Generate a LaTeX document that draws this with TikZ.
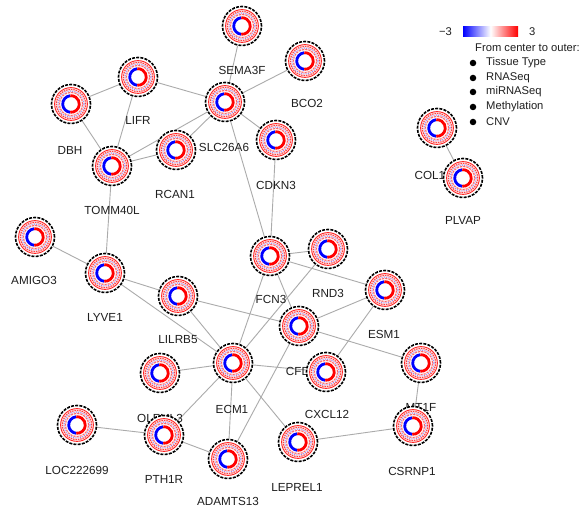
\documentclass[tikz,border=0pt]{standalone}
\usepackage{fontspec}
\setmainfont{Liberation Sans}
\usetikzlibrary{calc}
\pgfdeclarelayer{bglayer}
\pgfdeclarelayer{edgelayer}
\pgfdeclarelayer{labellayer}
\pgfsetlayers{bglayer,edgelayer,labellayer,main}
\tikzset{
  gene/.style={circle, minimum size=39pt, inner sep=0pt, fill=white, draw=black,
    line width=1.6pt, dash pattern=on 3pt off 1.2pt,
    path picture={
      \coordinate (pc) at (path picture bounding box.center);
      \fill[red!10, even odd rule] (pc) circle (16.2pt) (pc) circle (10.6pt);
      \draw[solid, red!85, line width=0.9pt] (pc) circle (16.4pt);
      \draw[red!75, line width=1.1pt, dash pattern=on 1.4pt off 1pt] (pc) circle (14.6pt);
      \draw[blue!45, line width=1.1pt, dash pattern=on 0.8pt off 1.5pt] (pc) circle (13.1pt);
      \draw[red!60, line width=1.0pt, dash pattern=on 2pt off 1.2pt] (pc) circle (11.7pt);
      \draw[solid, blue, line width=2.8pt] ([shift={(95:8.3pt)}]pc) arc (95:265:8.3pt);
      \draw[solid, red, line width=2.8pt] ([shift={(265:8.3pt)}]pc) arc (265:455:8.3pt);
    }},
  genelabel/.style={font=\fontsize{11.7}{13}\selectfont, text=black!88, inner sep=0pt},
  legtext/.style={font=\fontsize{11.2}{13}\selectfont, text=black!88, inner sep=0pt},
  bulletdot/.style={circle, fill=black, minimum size=6.5pt, inner sep=0pt},
  edge/.style={draw=black!33, line width=0.9pt}
}
\begin{document}
\begin{tikzpicture}[x=1pt, y=-1pt]
\useasboundingbox (0,0) rectangle (587,510);
\begin{pgfonlayer}{bglayer}
\fill[white] (0,0) rectangle (587,510);
\end{pgfonlayer}

% labels (under the nodes)
\begin{pgfonlayer}{labellayer}
\foreach \n/\x/\y/\t in {
  sema/242/70/SEMA3F, bco/307/103/BCO2, slc/224/147/SLC26A6, lifr/138/120/LIFR,
  dbh/70/150/DBH, rcan/175/194/RCAN1, tomm/112/210/TOMM40L, cdkn/276/185/CDKN3,
  amigo/34/280/AMIGO3, lyve/105/317/LYVE1, lilrb/178/340/LILRB5, fcn/271/299/FCN3,
  rnd/328/293/RND3, esm/384/334/ESM1, cfd/298/371/CFD, cxcl/327/414/CXCL12,
  elt/421/407/MT1F, ecm/232/409/ECM1, olf/160/418/OLFML3, pth/164/479/PTH1R,
  loc/77/470/LOC222699, adam/228/501/ADAMTS13, lep/297/487/LEPREL1,
  csr/412/471/CSRNP1, col/437/175/COL1A2, plv/463/220/PLVAP}
  \node[genelabel] (lab-\n) at (\x,\y) {\t};
\end{pgfonlayer}

% gene nodes
\foreach \n/\x/\y in {
  sema/242/26, bco/305/61, slc/225/102, lifr/138/77, dbh/71/104, rcan/176/150,
  tomm/112/166, cdkn/276/140, amigo/35/237, lyve/105/273, lilrb/178/296,
  fcn/270/256, rnd/328/249, esm/385/290, cfd/299/326, cxcl/326/372,
  elt/421/363, ecm/233/363, olf/160/373, pth/164/435, loc/77/425,
  adam/228/459, lep/298/442, csr/413/426, col/437/128, plv/463/178}
  \node[gene] (\n) at (\x,\y) {};

% connectors
\begin{pgfonlayer}{edgelayer}
\foreach \a/\b in {sema/slc, bco/slc, lifr/slc, lifr/tomm, dbh/lifr, dbh/tomm,
  rcan/slc, tomm/rcan, tomm/slc, slc/cdkn, slc/fcn, cdkn/fcn, tomm/lyve,
  amigo/lyve, lyve/lilrb, lyve/ecm, lilrb/ecm, lilrb/cfd, fcn/rnd, fcn/esm,
  fcn/ecm, fcn/cfd, rnd/ecm, esm/cfd, esm/cxcl, cfd/elt, ecm/cxcl, ecm/olf,
  ecm/pth, ecm/adam, ecm/lep, cfd/adam, pth/adam, loc/pth, lep/csr, elt/csr,
  col/plv}
  \draw[edge] (\a) -- (\b);
\end{pgfonlayer}

% legend
\node[legtext, anchor=east] (lmin) at (452,32) {−3};
\node[inner sep=0pt, minimum width=55pt, minimum height=10pt, left color=blue, right color=red, middle color=white] (bar) at (490.5,32) {};
\node[legtext, anchor=west] (lmax) at (529,32) {3};
\node[legtext, anchor=west] (lhead) at (475,48) {From center to outer:};
\foreach \i/\y/\t in {1/63/Tissue Type, 2/78/RNASeq, 3/92/miRNASeq, 4/107/Methylation, 5/122/CNV}{
  \node[bulletdot] (b\i) at (473,\y) {};
  \node[legtext, anchor=west] (lt\i) at (486,\y) {\t};
}
\end{tikzpicture}
\end{document}
